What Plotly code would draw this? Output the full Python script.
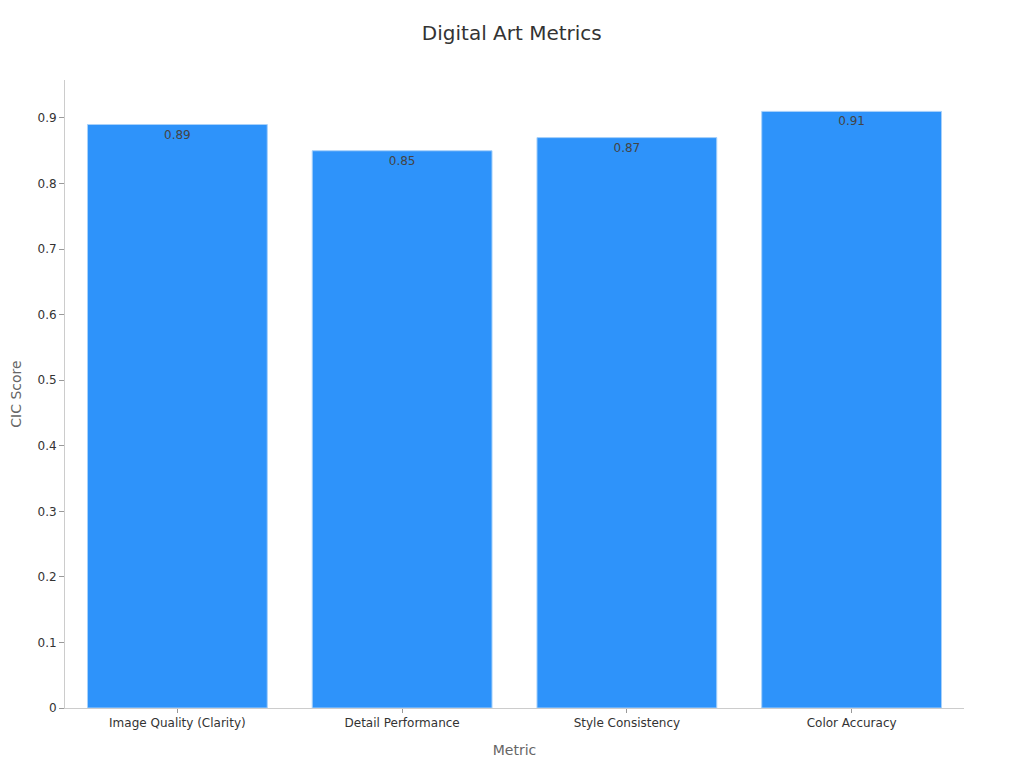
import plotly.graph_objects as go

# metrics and their CIC scores
metrics = ["Image Quality (Clarity)", "Detail Performance", "Style Consistency", "Color Accuracy"]
scores = [0.89, 0.85, 0.87, 0.91]
score_labels = ["0.89", "0.85", "0.87", "0.91"]

fig = go.Figure(go.Bar(
    x=metrics,
    y=scores,
    text=score_labels,
    textposition="inside",
    insidetextanchor="end",
    textfont=dict(size=12, color="#444444"),
    marker=dict(color="#2E93FA", line=dict(color="#A8D1FA", width=1)),
))

fig.update_layout(
    title=dict(text="Digital Art Metrics", x=0.492, xanchor="center", y=0.977, font=dict(size=20, color="#333333")),
    width=1024, height=768,
    margin=dict(l=57, r=68, t=72, b=68),
    font=dict(family="DejaVu Sans", size=12, color="#333333"),
    plot_bgcolor="white", paper_bgcolor="white",
    bargap=0.2,
    showlegend=False,
)
fig.update_xaxes(
    title=dict(text="Metric", font=dict(size=14, color="#666666")),
    showline=True, linecolor="#CCCCCC", showgrid=False,
    ticks="outside", ticklen=4, tickcolor="#999999",
    automargin=False,
)
fig.update_yaxes(
    title=dict(text="CIC Score", font=dict(size=14, color="#666666")),
    showline=True, linecolor="#CCCCCC", showgrid=False, zeroline=False,
    ticks="outside", ticklen=5, tickcolor="#999999", dtick=0.1,
    automargin=False,
)

fig.write_html("out.html")
